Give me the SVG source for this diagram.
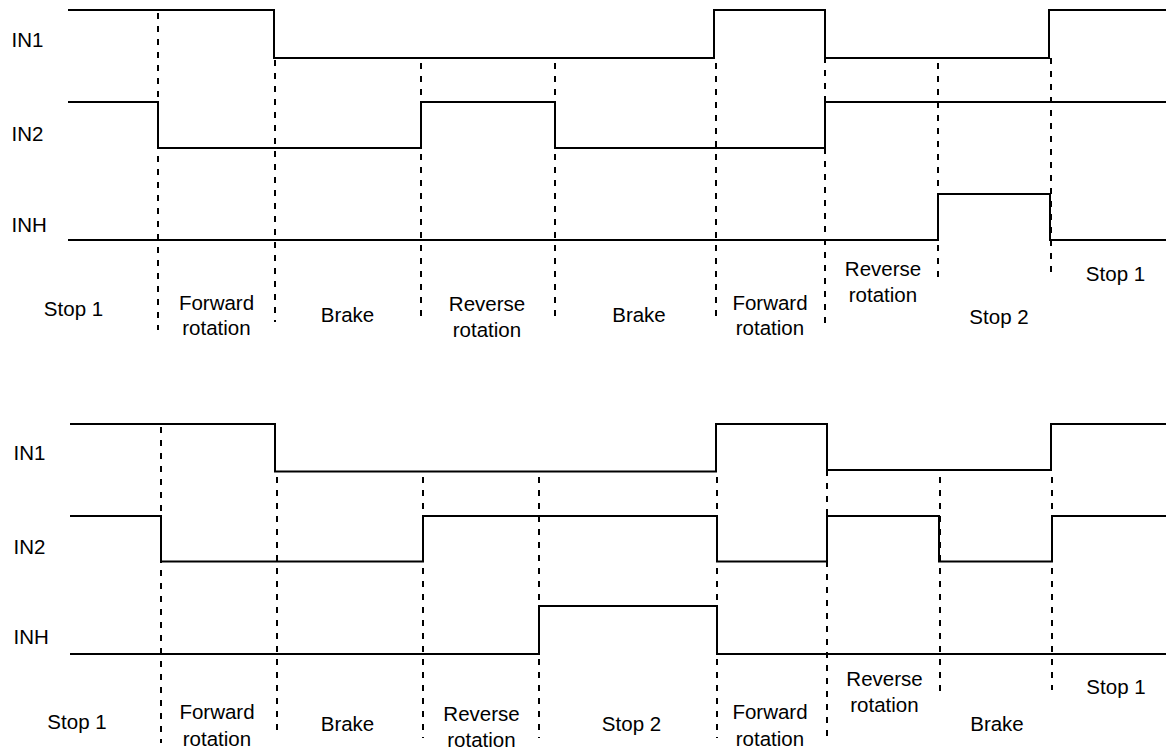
<svg xmlns="http://www.w3.org/2000/svg" width="1166" height="751" viewBox="0 0 1166 751">
<style>
.sig{fill:none;stroke:#000;stroke-width:2}
.dash{fill:none;stroke:#000;stroke-width:2;stroke-dasharray:6 7}
text{font-family:"Liberation Sans",Arial,sans-serif;font-size:20.5px;fill:#000}
.c{text-anchor:middle}
</style>
<rect width="1166" height="751" fill="#fff"/>
<g id="top-chart">
<g id="top-signals">
<path id="top-in1" class="sig" d="M68,10 H274 V58 H714 V10 H825 V58 H1049 V10 H1166"/>
<path id="top-in2" class="sig" d="M68,102 H158 V148 H421 V102 H555 V148 H825 V102 H1166"/>
<path id="top-inh" class="sig" d="M68,240 H938 V194 H1050 V240 H1166"/>
</g>
<g id="top-dashes">
<path class="dash" d="M158,13 V330"/>
<path class="dash" d="M275,60 V322"/>
<path class="dash" d="M421,63 V323"/>
<path class="dash" d="M555,63 V323"/>
<path class="dash" d="M716,63 V323"/>
<path class="dash" d="M825,57 V327"/>
<path class="dash" d="M938,63 V282"/>
<path class="dash" d="M1051,58 V277"/>
</g>
<g id="top-labels">
<text x="11.5" y="47">IN1</text>
<text x="11.5" y="141">IN2</text>
<text x="11.5" y="232">INH</text>
<text class="c" x="73.5" y="315.5">Stop 1</text>
<text class="c" x="216.5" y="309.5">Forward</text>
<text class="c" x="216.5" y="334.5">rotation</text>
<text class="c" x="347.5" y="321.5">Brake</text>
<text class="c" x="487" y="311">Reverse</text>
<text class="c" x="487" y="337">rotation</text>
<text class="c" x="639" y="321.5">Brake</text>
<text class="c" x="770" y="309.5">Forward</text>
<text class="c" x="770" y="334.5">rotation</text>
<text class="c" x="883" y="276">Reverse</text>
<text class="c" x="883" y="302">rotation</text>
<text class="c" x="999" y="323.5">Stop 2</text>
<text class="c" x="1115.5" y="280.5">Stop 1</text>
</g>
</g>
<g id="bottom-chart">
<g id="bottom-signals">
<path id="bot-in1" class="sig" d="M70,424 H275 V471.5 H716 V424 H827 V470 H1051 V424 H1166"/>
<path id="bot-in2" class="sig" d="M70,516 H161 V561.5 H423 V516 H717 V561.5 H827 V516 H939 V561.5 H1052 V516 H1166"/>
<path id="bot-inh" class="sig" d="M70,654 H539 V606 H717 V654 H1166"/>
</g>
<g id="bottom-dashes">
<path class="dash" d="M161,427 V743"/>
<path class="dash" d="M277,477 V735"/>
<path class="dash" d="M423,477 V738"/>
<path class="dash" d="M539,477 V738"/>
<path class="dash" d="M717,477 V738"/>
<path class="dash" d="M827,470 V740"/>
<path class="dash" d="M940,477 V695"/>
<path class="dash" d="M1052,477 V690"/>
</g>
<g id="bottom-labels">
<text x="13.5" y="460">IN1</text>
<text x="13.5" y="554">IN2</text>
<text x="13.5" y="644">INH</text>
<text class="c" x="77" y="728.5">Stop 1</text>
<text class="c" x="217" y="719">Forward</text>
<text class="c" x="217" y="745.5">rotation</text>
<text class="c" x="347.5" y="730.5">Brake</text>
<text class="c" x="481.5" y="720.5">Reverse</text>
<text class="c" x="481.5" y="747">rotation</text>
<text class="c" x="631.5" y="730.5">Stop 2</text>
<text class="c" x="770" y="719">Forward</text>
<text class="c" x="770" y="745.5">rotation</text>
<text class="c" x="884.5" y="685.5">Reverse</text>
<text class="c" x="884.5" y="711.5">rotation</text>
<text class="c" x="997" y="730.5">Brake</text>
<text class="c" x="1116" y="693.5">Stop 1</text>
</g>
</g>
</svg>
